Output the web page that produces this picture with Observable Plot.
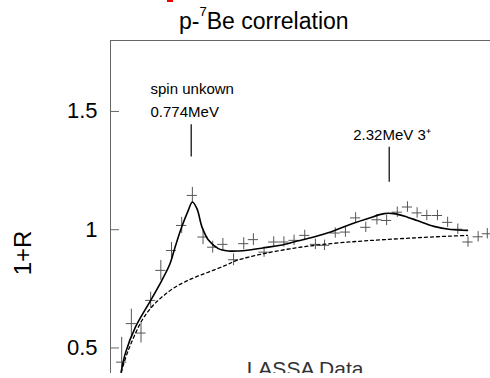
<!DOCTYPE html>
<html><head><meta charset="utf-8">
<script src="https://cdn.jsdelivr.net/npm/d3@7"></script>
<script src="https://cdn.jsdelivr.net/npm/@observablehq/plot@0.6"></script>
<style>
body{margin:0;background:#fff;font-family:"Liberation Sans",Arial,Helvetica,sans-serif;}
#wrap{position:relative;width:490px;height:378px;overflow:hidden;background:#fff;}
#chart{position:absolute;left:0;top:0;width:490px;height:373px;overflow:hidden;}
#title{position:absolute;left:179px;top:10px;font-size:23px;line-height:23px;color:#000;white-space:nowrap;}
#title .sup{position:relative;top:-12.6px;font-size:13px;}
#ylab{position:absolute;left:-26.6px;top:240.5px;width:100px;height:24px;font-size:24px;line-height:24px;text-align:center;transform:rotate(-90deg);color:#000;}
#lassa{position:absolute;left:246.7px;top:358.2px;font-size:21px;line-height:21px;color:#333;white-space:nowrap;}
#redmark{position:absolute;left:167px;top:0;width:6px;height:2px;background:#e00;}
</style></head><body>
<div id="wrap">
  <div id="chart"></div>
  <div id="title">p-<span class="sup">7</span>Be correlation</div>
  <div id="ylab">1+R</div>
  <div id="redmark"></div>
</div>
<script>
// measured correlation data (crosses)
const q = [2.2, 4.1, 6.0, 7.9, 9.9, 12.0, 14.0, 16.1, 18.2, 20.1, 22.1, 24.2, 26.2, 28.1, 30.2, 32.1, 34.1, 36.1, 38.2, 40.3, 42.1, 44.2, 46.2, 48.2, 50.2, 52.4, 54.3, 56.4, 58.4, 60.3, 62.2, 64.3, 66.3, 68.3, 70.3, 72.3, 74.1];
const ratio = [0.440, 0.603, 0.563, 0.701, 0.828, 0.912, 1.018, 1.145, 0.969, 0.926, 0.938, 0.873, 0.941, 0.958, 0.905, 0.948, 0.948, 0.955, 0.976, 0.938, 0.934, 0.986, 0.990, 1.050, 1.010, 1.042, 1.039, 1.074, 1.096, 1.071, 1.060, 1.060, 1.031, 1.002, 0.948, 0.970, 0.983];
const err = [0.105, 0.061, 0.042, 0.035, 0.042, 0.034, 0.034, 0.034, 0.032, 0.025, 0.025, 0.025, 0.025, 0.025, 0.022, 0.022, 0.022, 0.022, 0.022, 0.022, 0.022, 0.022, 0.022, 0.022, 0.022, 0.022, 0.022, 0.022, 0.022, 0.022, 0.022, 0.022, 0.022, 0.022, 0.022, 0.022, 0.022];
const binHalf = 1.0;

// fit (solid)
const fitQ = [2.1, 2.9, 4.9, 7.9, 10.1, 11.7, 12.7, 14.0, 15.3, 16.1, 17.0, 18.0, 19.3, 21.2, 23.2, 25.2, 26.9, 30.2, 33.4, 36.7, 40.0, 43.3, 46.6, 50.5, 53.8, 55.7, 58.4, 60.3, 63.6, 66.9, 70.2];
const fitV = [0.398, 0.476, 0.588, 0.701, 0.786, 0.856, 0.926, 1.011, 1.082, 1.117, 1.089, 1.011, 0.955, 0.920, 0.910, 0.910, 0.913, 0.924, 0.934, 0.952, 0.969, 0.990, 1.018, 1.046, 1.068, 1.068, 1.053, 1.039, 1.014, 1.001, 0.997];

// background (dashed)
const bgQ = [2.1, 3.5, 6.2, 8.1, 10.1, 12.7, 16.0, 19.3, 22.6, 24.8, 30.2, 36.7, 43.3, 48.8, 53.8, 60.3, 66.9, 70.2];
const bgV = [0.398, 0.490, 0.617, 0.673, 0.715, 0.757, 0.793, 0.821, 0.849, 0.870, 0.899, 0.924, 0.941, 0.951, 0.958, 0.966, 0.973, 0.976];

// annotations
const peakQ = [15.87, 54.81];
const peakTop = [1.444, 1.349];
const peakBottom = [1.307, 1.201];
const labelText = ["spin unkown", "0.774MeV", "2.32MeV 3\u207A"];
const labelQ = [7.87, 7.87, 47.73];
const labelV = [1.574, 1.476, 1.378];

// axis
const yTicks = [0.5, 1, 1.5];
const yTickLabels = ["0.5", "1", "1.5"];
const xDomain = [0, 74.73];
const yDomain = [0.392, 1.8];

const pts = q.map((d, i) => ({q: d, v: ratio[i], e: err[i]}));
const fit = fitQ.map((d, i) => ({q: d, v: fitV[i]}));
const bg = bgQ.map((d, i) => ({q: d, v: bgV[i]}));
const peaks = peakQ.map((d, i) => ({q: d, y1: peakTop[i], y2: peakBottom[i]}));
const labels = labelText.map((t, i) => ({t, q: labelQ[i], v: labelV[i]}));

const chart = Plot.plot({
  width: 490, height: 373,
  marginLeft: 110, marginRight: 0, marginTop: 40, marginBottom: 0,
  x: {domain: xDomain, axis: null},
  y: {domain: yDomain, axis: null},
  style: {fontFamily: "'Liberation Sans', Arial, Helvetica, sans-serif", background: "white", color: "black"},
  marks: [
    Plot.ruleY([yDomain[1]], {stroke: "#666", strokeWidth: 1}),
    Plot.ruleX([xDomain[0]], {stroke: "#666", strokeWidth: 1}),
    Plot.tickY(yTicks, {y: d => d, stroke: "#666", insetRight: 371}),
    Plot.axisY(yTicks, {tickSize: 0, tickPadding: 13, fontSize: 22, label: null,
      tickFormat: d => yTickLabels[yTicks.indexOf(d)]}),
    Plot.ruleX(pts, {x: "q", y1: d => d.v - d.e, y2: d => d.v + d.e, stroke: "#555", strokeWidth: 1, clip: true}),
    Plot.ruleY(pts, {y: "v", x1: d => d.q - binHalf, x2: d => d.q + binHalf, stroke: "#555", strokeWidth: 1, clip: true}),
    Plot.line(bg, {x: "q", y: "v", curve: "catmull-rom", stroke: "black", strokeWidth: 1.3, strokeDasharray: "3,3", clip: true}),
    Plot.line(fit, {x: "q", y: "v", curve: "catmull-rom", stroke: "black", strokeWidth: 1.6, clip: true}),
    Plot.ruleX(peaks, {x: "q", y1: "y1", y2: "y2", stroke: "black", strokeWidth: 1.2}),
    Plot.text(labels, {x: "q", y: "v", text: "t", textAnchor: "start", lineAnchor: "bottom", fontSize: 15, fill: "black"})
  ]
});
const holder = document.getElementById("chart");
holder.appendChild(chart);
const lassa = document.createElement("div");
lassa.id = "lassa";
lassa.textContent = "LASSA Data";
holder.appendChild(lassa);
</script>
</body></html>
